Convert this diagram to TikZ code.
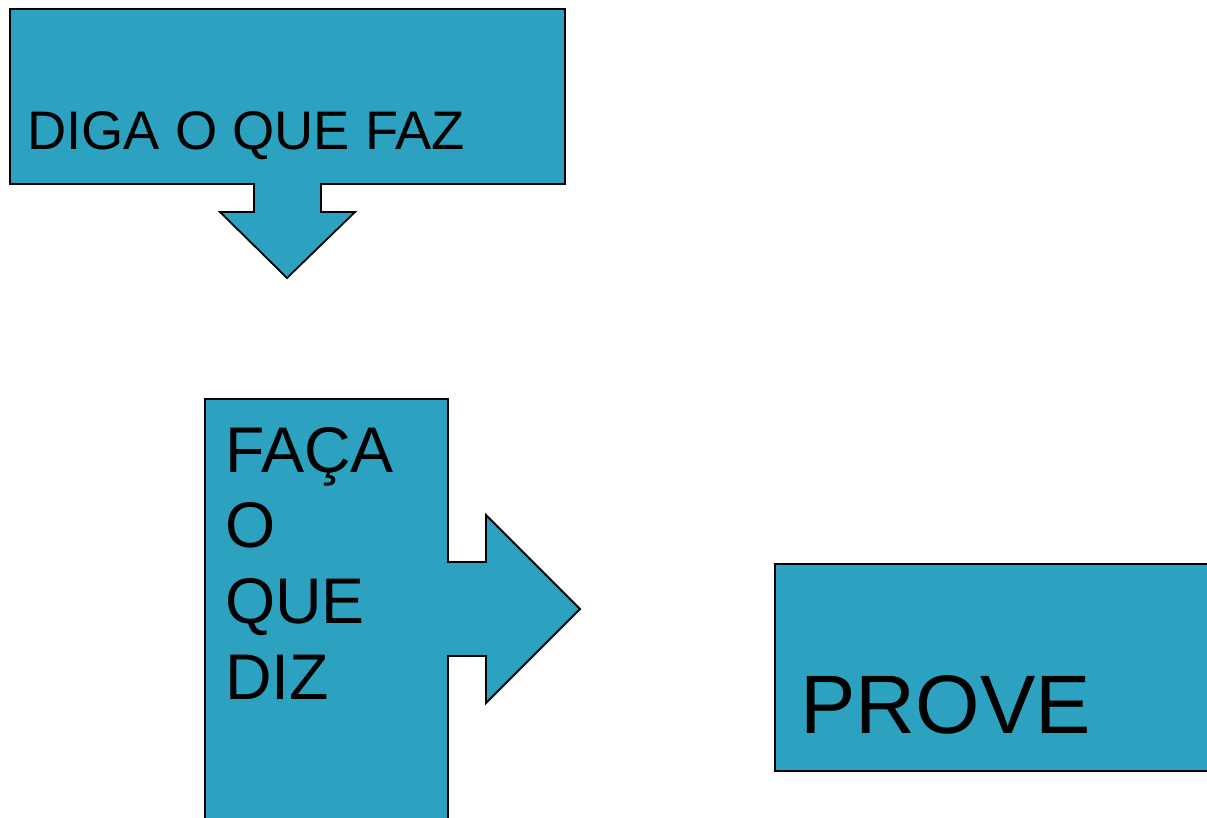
\documentclass[tikz,border=0pt]{standalone}
\usepackage{fontspec}
\setmainfont{Liberation Sans}
\definecolor{boxblue}{HTML}{2CA2C0}
\tikzset{
  callout/.style={fill=boxblue, draw=black, line width=1.8pt, line join=miter},
  label/.style={anchor=base west, inner sep=0pt, text=black, align=left}
}
\begin{document}
\begin{tikzpicture}[x=1pt,y=-1pt]
\useasboundingbox (0,0) rectangle (1207,817);
\clip (0,0) rectangle (1207,817);
% top callout with down arrow
\draw[callout] (10,9) -- (565,9) -- (565,184) -- (321,184) -- (321,212) -- (355,212)
  -- (287,278) -- (220,212) -- (254,212) -- (254,184) -- (10,184) -- cycle;
% middle callout with right arrow
\draw[callout] (205,399) -- (448,399) -- (448,562) -- (486,562) -- (486,515)
  -- (580,609) -- (486,703) -- (486,656) -- (448,656) -- (448,830) -- (205,830) -- cycle;
% right box
\draw[callout] (775,564) rectangle (1220,771);
\node[label, font=\fontsize{54.3}{65}\selectfont] (diga) at (27,149) {DIGA O QUE FAZ};
\node[label, font=\fontsize{64.5}{75.6}\selectfont] (faca) at (225,699) {FAÇA\\O\\QUE\\DIZ};
\node[label, font=\fontsize{83}{100}\selectfont] (prove) at (800,733) {PROVE};
\end{tikzpicture}
\end{document}
